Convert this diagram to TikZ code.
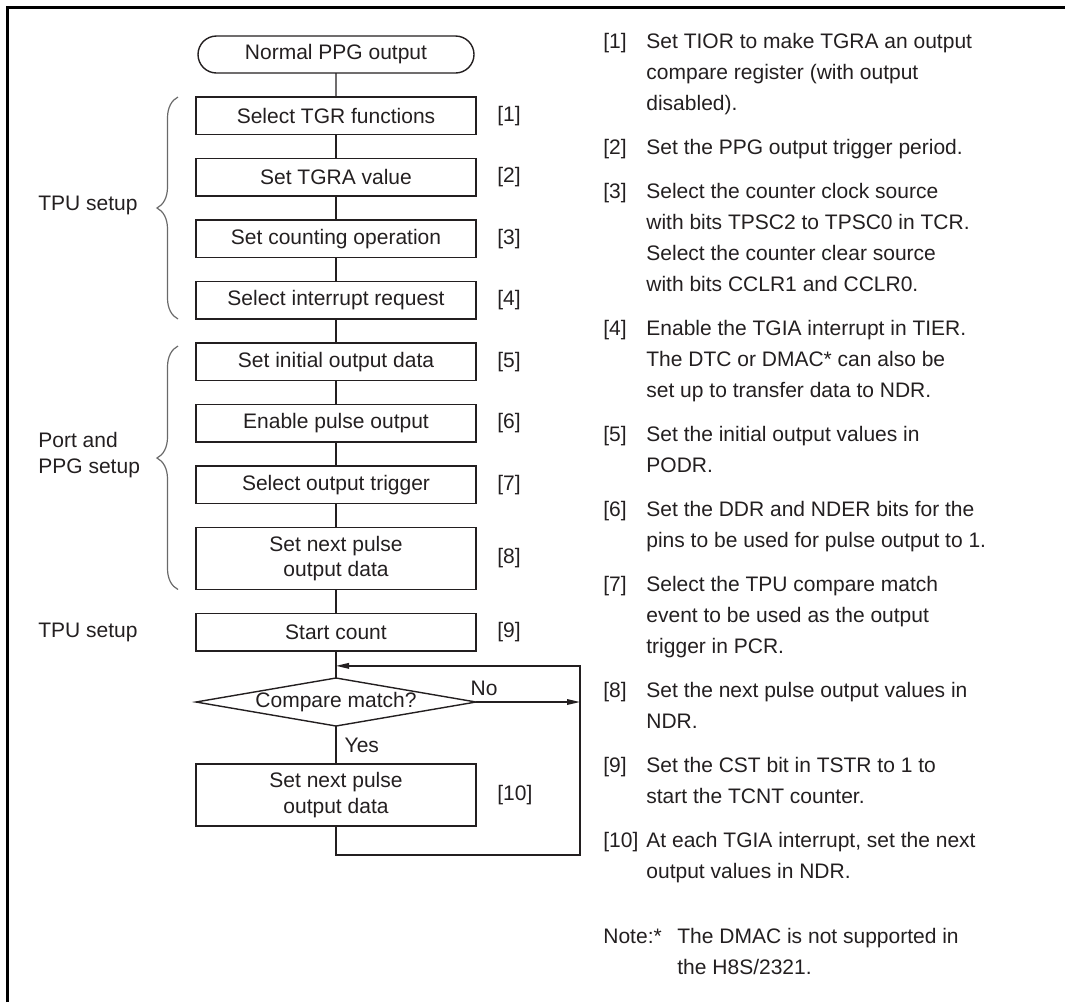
\documentclass[tikz,border=0pt]{standalone}
\usepackage{fontspec}
\setmainfont{Liberation Sans}
\usetikzlibrary{arrows.meta,positioning,shapes.geometric,shapes.misc,calc,decorations.pathreplacing}
\definecolor{pgink}{RGB}{35,31,32}
\definecolor{pgbrace}{RGB}{105,105,105}
\newcommand{\pgfnt}{\fontsize{10.5pt}{12.6pt}\selectfont}
\tikzset{
  pbox/.style={rectangle, draw=pgink, line width=0.7pt, text=pgink, align=center, outer sep=0pt,
               font=\pgfnt, minimum width=140pt, minimum height=18.75pt, inner sep=0pt},
  pterm/.style={rounded rectangle, draw=pgink, line width=0.7pt, text=pgink, outer sep=0pt,
               font=\pgfnt, minimum width=138pt, minimum height=18.5pt, inner sep=0pt},
  pdec/.style={diamond, draw=pgink, line width=0.7pt, text=pgink, font=\pgfnt, outer sep=0pt,
               minimum width=140pt, minimum height=24pt, aspect=5.8, inner sep=0pt},
  ptag/.style={text=pgink, font=\pgfnt, inner sep=0pt},
  pline/.style={draw=pgink, line width=0.7pt},
  parr/.style={pline, -{Triangle[length=6.5pt,width=2.8pt]}},
  pbrace/.style={draw=pgbrace, line width=0.6pt, decorate, decoration={brace, amplitude=10.5pt}},
}

\begin{document}
\begin{tikzpicture}[x=0.5pt, y=-0.5pt, node distance=12pt]
  \useasboundingbox (0,0) rectangle (1065,1002);
  % frame
  \draw[line width=1.5pt, black] (7,1002) -- (7,7) -- (1065,7);

  % flow
  \node[pterm] (st) at (336,54.5) {Normal PPG output};
  \node[pbox, below=of st] (s1) {Select TGR functions};
  \node[pbox, below=of s1] (s2) {Set TGRA value};
  \node[pbox, below=of s2] (s3) {Set counting operation};
  \node[pbox, below=of s3] (s4) {Select interrupt request};
  \node[pbox, below=of s4] (s5) {Set initial output data};
  \node[pbox, below=of s5] (s6) {Enable pulse output};
  \node[pbox, below=of s6] (s7) {Select output trigger};
  \node[pbox, below=of s7, minimum height=31pt] (s8) {Set next pulse\\output data};
  \node[pbox, below=of s8] (s9) {Start count};
  \node[pdec, below=13.5pt of s9] (cmp) {Compare match?};
  \node[pbox, below=19pt of cmp, minimum height=31pt] (s10) {Set next pulse\\output data};

  \draw[pline](st)--(s1);\draw[pline](s1)--(s2);\draw[pline](s2)--(s3);\draw[pline](s3)--(s4);
  \draw[pline](s4)--(s5);\draw[pline](s5)--(s6);\draw[pline](s6)--(s7);\draw[pline](s7)--(s8);
  \draw[pline](s8)--(s9);\draw[pline](s9)--(cmp);
  \draw[pline](cmp)--node[ptag, right=4pt]{Yes}(s10);

  % loop back
  \coordinate (mg) at ($(s9.south)!0.55!(cmp.north)$);
  \coordinate (rt) at ($(cmp.east)+(52pt,0)$);
  \draw[parr](cmp.east)--node[ptag, pos=0, anchor=south west, xshift=-3pt, yshift=2.75pt]{No}(rt);
  \draw[parr](s10.south)--++(0,-14.5pt)-|(rt|-mg)--(mg);

  % step numbers
  \node[ptag, right=10.5pt of s1] (t1) {[1]};
  \node[ptag, right=10.5pt of s2] (t2) {[2]};
  \node[ptag, right=10.5pt of s3] (t3) {[3]};
  \node[ptag, right=10.5pt of s4] (t4) {[4]};
  \node[ptag, right=10.5pt of s5] (t5) {[5]};
  \node[ptag, right=10.5pt of s6] (t6) {[6]};
  \node[ptag, right=10.5pt of s7] (t7) {[7]};
  \node[ptag, right=10.5pt of s8] (t8) {[8]};
  \node[ptag, right=10.5pt of s9] (t9) {[9]};
  \node[ptag, right=10.5pt of s10] (t10) {[10]};

  % groups
  \draw[pbrace]($(s4.south west)+(-9pt,0)$)--($(s1.north west)+(-9pt,0)$);
  \draw[pbrace, decoration={aspect=0.54}]($(s8.south west)+(-9pt,0)$)--($(s5.north west)+(-9pt,-1.5pt)$);
  \coordinate (lm) at (38,0);
  \coordinate (m1) at ($(s1.north)!0.49!(s4.south)$);
  \coordinate (m2) at ($(s5.north)!0.455!(s8.south)$);
  \node[ptag, anchor=west] (g1) at (lm|-m1) {TPU setup};
  \node[ptag, anchor=west, align=left] (g2) at (lm|-m2) {Port and\\PPG setup};
  \node[ptag, anchor=west] (g3) at (lm|-s9) {TPU setup};

  % notes
  \node[ptag, anchor=base west, font=\fontsize{10.5pt}{15.5pt}\selectfont] (desc) at (603,48.5) {%
    \begin{tabular}[t]{@{}p{21.5pt}@{}l@{}}
    [1] & Set TIOR to make TGRA an output\\
        & compare register (with output\\
        & disabled).\\[6.5pt]
    [2] & Set the PPG output trigger period.\\[6.5pt]
    [3] & Select the counter clock source\\
        & with bits TPSC2 to TPSC0 in TCR.\\
        & Select the counter clear source\\
        & with bits CCLR1 and CCLR0.\\[6.5pt]
    [4] & Enable the TGIA interrupt in TIER.\\
        & The DTC or DMAC* can also be\\
        & set up to transfer data to NDR.\\[6.5pt]
    [5] & Set the initial output values in\\
        & PODR.\\[6.5pt]
    [6] & Set the DDR and NDER bits for the\\
        & pins to be used for pulse output to 1.\\[6.5pt]
    [7] & Select the TPU compare match\\
        & event to be used as the output\\
        & trigger in PCR.\\[6.5pt]
    [8] & Set the next pulse output values in\\
        & NDR.\\[6.5pt]
    [9] & Set the CST bit in TSTR to 1 to\\
        & start the TCNT counter.\\[6.5pt]
    [10] & At each TGIA interrupt, set the next\\
        & output values in NDR.\\[17pt]
    \multicolumn{2}{@{}l@{}}{\makebox[37pt][l]{Note:*}The DMAC is not supported in}\\
    \multicolumn{2}{@{}l@{}}{\hspace{37pt}the H8S/2321.}
    \end{tabular}};
\end{tikzpicture}
\end{document}
